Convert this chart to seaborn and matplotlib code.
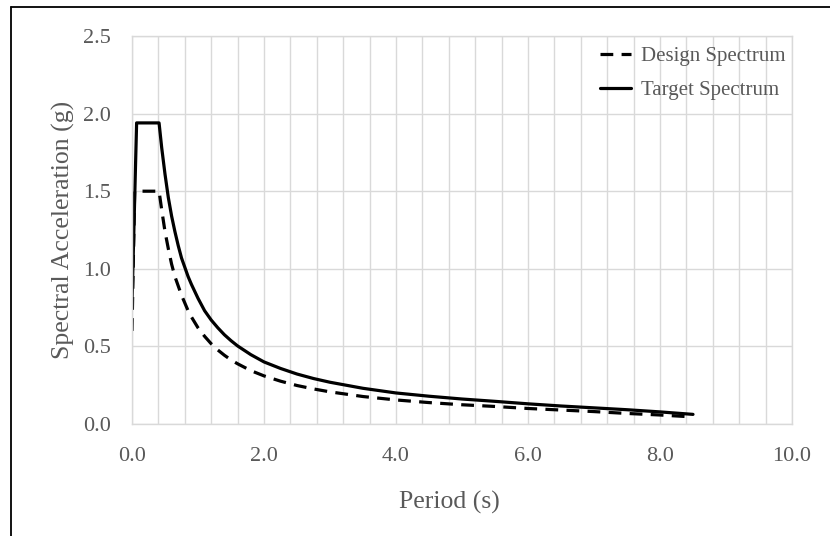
import numpy as np
import pandas as pd
import matplotlib
matplotlib.use("Agg")
import matplotlib.pyplot as plt
from matplotlib.lines import Line2D
import seaborn as sns

# ---- data ----
design_period = [0.0, 0.04, 0.41, 0.45, 0.5, 0.55, 0.6, 0.65, 0.7, 0.75, 0.8, 0.85, 0.9, 1.0,
                 1.1, 1.2, 1.3, 1.4, 1.5, 1.6, 1.8, 2.0, 2.25, 2.5, 2.75, 3.0, 3.5, 4.0,
                 4.5, 5.0, 5.5, 6.0, 6.5, 7.0, 7.5, 8.0, 8.4]
design_sa = [0.60, 1.50, 1.50, 1.38, 1.24, 1.13, 1.03, 0.95, 0.89, 0.83, 0.78, 0.73, 0.69, 0.62,
             0.565, 0.517, 0.477, 0.443, 0.413, 0.388, 0.344, 0.31, 0.276, 0.248, 0.226, 0.207,
             0.177, 0.155, 0.138, 0.124, 0.113, 0.10, 0.09, 0.08, 0.068, 0.058, 0.048]

target_period = [0.0, 0.07, 0.41, 0.45, 0.5, 0.55, 0.6, 0.65, 0.7, 0.75, 0.8, 0.85, 0.9, 1.0,
                 1.1, 1.2, 1.3, 1.4, 1.5, 1.6, 1.8, 2.0, 2.25, 2.5, 2.75, 3.0, 3.5, 4.0,
                 4.5, 5.0, 5.5, 6.0, 6.5, 7.0, 7.5, 8.0, 8.5]
target_sa = [0.78, 1.94, 1.94, 1.78, 1.61, 1.46, 1.34, 1.24, 1.15, 1.07, 1.01, 0.95, 0.90, 0.81,
             0.73, 0.67, 0.62, 0.575, 0.537, 0.503, 0.447, 0.40, 0.358, 0.322, 0.293, 0.269,
             0.23, 0.20, 0.179, 0.161, 0.146, 0.13, 0.116, 0.104, 0.092, 0.078, 0.062]

series_names = ["Design Spectrum", "Target Spectrum"]
x_tick_values = [0.0, 2.0, 4.0, 6.0, 8.0, 10.0]
x_tick_labels = ["0.0", "2.0", "4.0", "6.0", "8.0", "10.0"]
y_tick_values = [0.0, 0.5, 1.0, 1.5, 2.0, 2.5]
y_tick_labels = ["0.0", "0.5", "1.0", "1.5", "2.0", "2.5"]

design_df = pd.DataFrame({"Period": design_period, "SA": design_sa})
target_df = pd.DataFrame({"Period": target_period, "SA": target_sa})

sns.set_style("white")
plt.rcParams["font.family"] = ["Liberation Serif", "DejaVu Serif"]

TEXT = "#595959"
GRID = "#d9d9d9"

fig = plt.figure(figsize=(8.30, 5.36), dpi=100)
ax = fig.add_axes([132 / 830, 1 - 424 / 536, (792 - 132) / 830, (424 - 36) / 536])

sns.lineplot(data=design_df, x="Period", y="SA", ax=ax, color="black", lw=2.3,
             linestyle=(0, (4, 2.6)), label=series_names[0], sort=False)
sns.lineplot(data=target_df, x="Period", y="SA", ax=ax, color="black", lw=2.3,
             label=series_names[1], sort=False)

ax.set_xlim(0, 10)
ax.set_ylim(0, 2.5)
ax.set_xticks(x_tick_values)
ax.set_xticklabels(x_tick_labels)
ax.set_xticks(np.arange(0, 10.001, 0.4), minor=True)
ax.set_yticks(y_tick_values)
ax.set_yticklabels(y_tick_labels)

ax.grid(True, which="major", axis="both", color=GRID, lw=1)
ax.grid(True, which="minor", axis="x", color=GRID, lw=1)
ax.set_axisbelow(True)
for s in ax.spines.values():
    s.set_color(GRID)
    s.set_linewidth(1)

ax.tick_params(axis="both", which="both", length=0, labelsize=16, colors=TEXT)
ax.tick_params(axis="x", pad=16.3)
ax.tick_params(axis="y", pad=15)

ax.set_xlabel("Period (s)", fontsize=18.5, color=TEXT, labelpad=18)
ax.xaxis.label.set_x(0.481)
ax.set_ylabel("Spectral Acceleration (g)", fontsize=18.5, color=TEXT, labelpad=5.7)

leg = ax.legend(loc="upper right", bbox_to_anchor=(1.0 + 6 / 660, 1.0 + 2 / 388), frameon=False,
                fontsize=15, handlelength=1.45, handletextpad=0.5,
                borderaxespad=0.2, labelspacing=0.68)
for t in leg.get_texts():
    t.set_color(TEXT)

# figure border (left and top edges visible in the reference)
fig.add_artist(Line2D([11 / 830, 11 / 830], [0, 1 - 7 / 536], transform=fig.transFigure,
                      color="black", lw=1.3))
fig.add_artist(Line2D([11 / 830, 1], [1 - 7 / 536, 1 - 7 / 536], transform=fig.transFigure,
                      color="black", lw=1.3))

fig.savefig("out.png", dpi=100)
